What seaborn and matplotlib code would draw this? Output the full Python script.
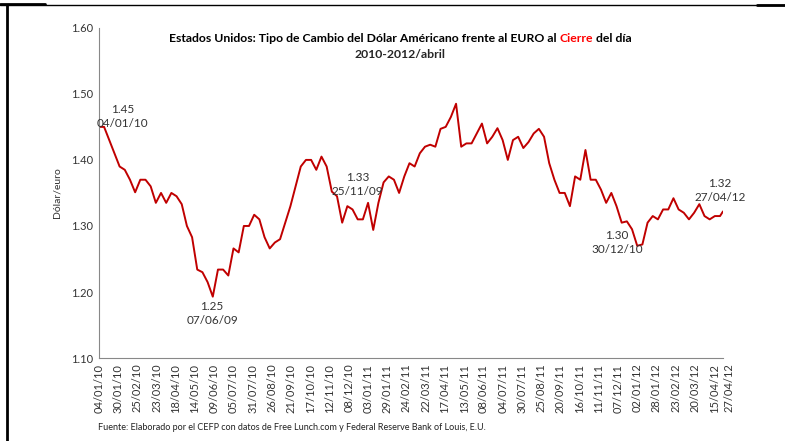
import numpy as np
import pandas as pd
import seaborn as sns
from matplotlib import pyplot as plt
from matplotlib.lines import Line2D
from matplotlib.transforms import ScaledTranslation

# datos semanales (dolar por euro, cierre)
fecha_inicio = '2010-01-04'
fecha_final = '2012-04-27'
valores = [1.450, 1.450, 1.430, 1.410, 1.390, 1.385, 1.370, 1.351, 1.370, 1.370,
           1.360, 1.335, 1.350, 1.335, 1.350, 1.345, 1.333, 1.300, 1.283, 1.234,
           1.230, 1.215, 1.193, 1.234, 1.234, 1.225, 1.266, 1.260, 1.300, 1.300,
           1.317, 1.310, 1.283, 1.266, 1.275, 1.280, 1.305, 1.330, 1.360, 1.390,
           1.400, 1.400, 1.385, 1.405, 1.390, 1.352, 1.345, 1.305, 1.330, 1.325,
           1.310, 1.310, 1.335, 1.294, 1.335, 1.366, 1.375, 1.370, 1.350, 1.375,
           1.395, 1.390, 1.410, 1.420, 1.423, 1.420, 1.447, 1.450, 1.465, 1.485,
           1.420, 1.425, 1.425, 1.440, 1.455, 1.425, 1.435, 1.448, 1.430, 1.400,
           1.430, 1.435, 1.418, 1.427, 1.440, 1.447, 1.435, 1.395, 1.370, 1.350,
           1.350, 1.330, 1.375, 1.370, 1.415, 1.370, 1.370, 1.355, 1.335, 1.350,
           1.330, 1.305, 1.307, 1.295, 1.270, 1.272, 1.305, 1.315, 1.310, 1.325,
           1.325, 1.342, 1.325, 1.320, 1.310, 1.320, 1.333, 1.315, 1.310, 1.315,
           1.315]
valor_final = 1.322

etiquetas_x = ['04/01/10', '30/01/10', '25/02/10', '23/03/10', '18/04/10', '14/05/10',
               '09/06/10', '05/07/10', '31/07/10', '26/08/10', '21/09/10', '17/10/10',
               '12/11/10', '08/12/10', '03/01/11', '29/01/11', '24/02/11', '22/03/11',
               '17/04/11', '13/05/11', '08/06/11', '04/07/11', '30/07/11', '25/08/11',
               '20/09/11', '16/10/11', '11/11/11', '07/12/11', '02/01/12', '28/01/12',
               '23/02/12', '20/03/12', '15/04/12', '27/04/12']

# anotaciones: (fecha, valor, texto)
notas = [('2010-02-05', 1.466, '1.45\n04/01/10'),
         ('2010-06-06', 1.167, '1.25\n07/06/09'),
         ('2010-12-20', 1.363, '1.33\n25/11/09'),
         ('2011-12-06', 1.275, '1.30\n30/12/10'),
         ('2012-04-23', 1.354, '1.32\n27/04/12')]

fechas = list(pd.date_range(fecha_inicio, periods=len(valores), freq='7D')) + [pd.Timestamp(fecha_final)]
df_data = pd.DataFrame({'fecha': fechas, 'valor': valores + [valor_final]})

sns.set_style('white')
plt.rcParams['font.family'] = ['Lato', 'DejaVu Sans']

fig = plt.figure(figsize=(7.85, 4.41), dpi=100)
ax = fig.add_axes([0.126, 0.188, 0.795, 0.749])

sns.lineplot(data=df_data, x='fecha', y='valor', color='#C00000', linewidth=1.4, ax=ax)

ax.set_ylim(1.10, 1.60)
ax.set_yticks(np.arange(1.10, 1.601, 0.10))
ax.set_yticklabels(['{:.2f}'.format(v) for v in np.arange(1.10, 1.601, 0.10)], fontsize=8, color='#333333')
ax.set_xlim(pd.Timestamp(fecha_inicio), pd.Timestamp(fecha_final))
ticks_x = pd.to_datetime(etiquetas_x, format='%d/%m/%y')
ax.set_xticks(ticks_x)
ax.set_xticklabels(etiquetas_x, rotation=90, fontsize=8, color='#333333')
ax.tick_params(length=0, pad=4)
# la ultima etiqueta queda un poco a la derecha, como en Excel
ult = ax.get_xticklabels()[-1]
ult.set_transform(ult.get_transform() + ScaledTranslation(6 / 100, 0, fig.dpi_scale_trans))
ax.set_xlabel('')
ax.set_ylabel('Dólar/euro', fontsize=7.5, color='#333333', labelpad=7)
for s in ['top', 'right']:
    ax.spines[s].set_visible(False)
for s in ['left', 'bottom']:
    ax.spines[s].set_color('#888888')
    ax.spines[s].set_linewidth(0.8)

for f, v, t in notas:
    ax.text(pd.Timestamp(f), v, t, ha='center', va='center', fontsize=8.5,
            color='#333333', linespacing=1.35)

# titulo con "Cierre" en rojo
partes = [('Estados Unidos: Tipo de Cambio del Dólar Américano frente al EURO al ', 'black'),
          ('Cierre', '#FF0000'),
          (' del día', 'black')]
fig.canvas.draw()
r = fig.canvas.get_renderer()
textos = []
for p, c in partes:
    t = fig.text(0, 1 - 38 / 441, p, fontsize=8.8, fontweight='bold', color=c, va='center', ha='left')
    textos.append(t)
anchos = [t.get_window_extent(r).width for t in textos]
x = 400 - sum(anchos) / 2
for i, t in enumerate(textos):
    t.set_x(x / 785)
    x += anchos[i]
fig.text(400 / 785, 1 - 55 / 441, '2010-2012/abril', fontsize=8.8, fontweight='bold',
         ha='center', va='center')

fig.text(98 / 785, 1 - 428 / 441,
         'Fuente: Elaborado por el CEFP con datos de Free Lunch.com y Federal Reserve Bank of Louis, E.U.',
         fontsize=6.5, ha='left', va='center', color='#222222')

# marco
fig.add_artist(Line2D([7 / 785, 7 / 785], [0, 1 - 5 / 441], color='black', linewidth=2, transform=fig.transFigure))
fig.add_artist(Line2D([0, 1], [1 - 5 / 441, 1 - 5 / 441], color='black', linewidth=1, transform=fig.transFigure))
fig.add_artist(Line2D([0, 45 / 785], [1 - 4 / 441, 1 - 4 / 441], color='black', linewidth=2, transform=fig.transFigure))
fig.add_artist(Line2D([757 / 785, 1], [1 - 5 / 441, 1 - 5 / 441], color='black', linewidth=2, transform=fig.transFigure))

fig.savefig('out.png', dpi=100)
